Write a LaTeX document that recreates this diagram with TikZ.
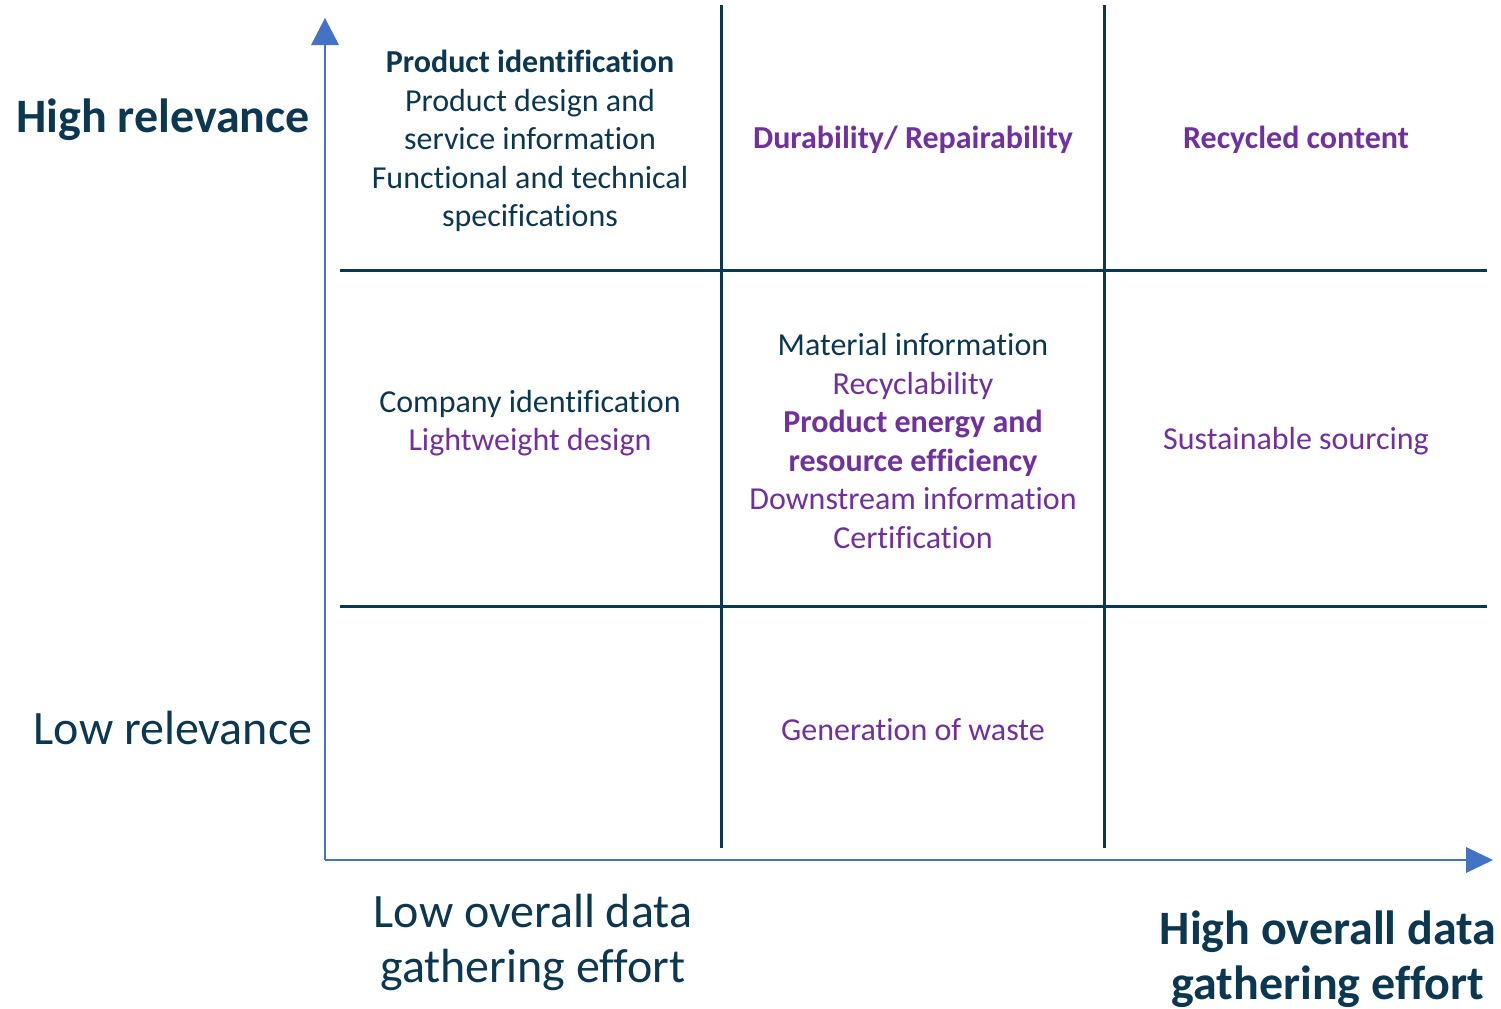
\documentclass[tikz,border=0pt]{standalone}
\usepackage{fontspec}
\setmainfont{Carlito}[RawFeature={-liga}]
\definecolor{navy}{RGB}{12,55,80}
\definecolor{purp}{RGB}{112,48,160}
\definecolor{axblue}{RGB}{68,114,196}
\tikzset{
  gridline/.style={draw=navy, line width=1.5pt},
  axisline/.style={draw=axblue, line width=0.7pt},
  celltext/.style={align=center, font=\fontsize{16}{19.3}\selectfont, text=navy, inner sep=0pt},
  boldcell/.style={celltext, font=\bfseries\fontsize{16}{19.3}\selectfont},
  axlabel/.style={align=center, font=\fontsize{24}{27.5}\selectfont, text=navy, inner sep=0pt},
  boldaxlabel/.style={axlabel, font=\bfseries\fontsize{24}{27.5}\selectfont},
}
\begin{document}
\begin{tikzpicture}[x=0.5pt,y=-0.5pt]
\useasboundingbox (0,0) rectangle (1501,1008);
% axes
\coordinate (o) at (325,860);
\coordinate (ytip) at (325,18);
\coordinate (xtip) at (1493,860);
\draw[axisline] (o) -- (325,45);
\draw[axisline] (o) -- (1466,860);
\fill[axblue] (ytip) -- (311,45) -- (339,45) -- cycle;
\fill[axblue] (xtip) -- (1466,847) -- (1466,873) -- cycle;
% grid
\coordinate (h1a) at (340,270); \coordinate (h1b) at (1487,270);
\coordinate (h2a) at (340,606); \coordinate (h2b) at (1487,606);
\coordinate (v1a) at (721,5); \coordinate (v1b) at (721,848);
\coordinate (v2a) at (1104,5); \coordinate (v2b) at (1104,848);
\draw[gridline] (h1a) -- (h1b);
\draw[gridline] (h2a) -- (h2b);
\draw[gridline] (v1a) -- (v1b);
\draw[gridline] (v2a) -- (v2b);
% axis labels
\node[boldaxlabel] (hr) at (163,120) {High relevance};
\node[axlabel] (lr) at (173,728) {Low relevance};
\node[axlabel] (lo) at (533,942) {Low overall data\\gathering effort};
\node[boldaxlabel] (ho) at (1328,959) {High overall data\\gathering effort};
% cells
\node[celltext] (c11) at (530,141) {\textbf{Product identification}\\Product design and\\service information\\Functional and technical\\specifications};
\node[boldcell, text=purp] (c12) at (913,140) {Durability/ Repairability};
\node[boldcell, text=purp] (c13) at (1296,140) {Recycled content};
\node[celltext] (c21) at (530,423) {Company identification\\\textcolor{purp}{Lightweight design}};
\node[celltext] (c22) at (913,441) {Material information\\\textcolor{purp}{Recyclability}\\\textcolor{purp}{\textbf{Product energy and}}\\\textcolor{purp}{\textbf{resource efficiency}}\\\textcolor{purp}{Downstream information}\\\textcolor{purp}{Certification}};
\node[celltext, text=purp] (c23) at (1296,441) {Sustainable sourcing};
\node[celltext, text=purp] (c32) at (913,730) {Generation of waste};
\end{tikzpicture}
\end{document}
